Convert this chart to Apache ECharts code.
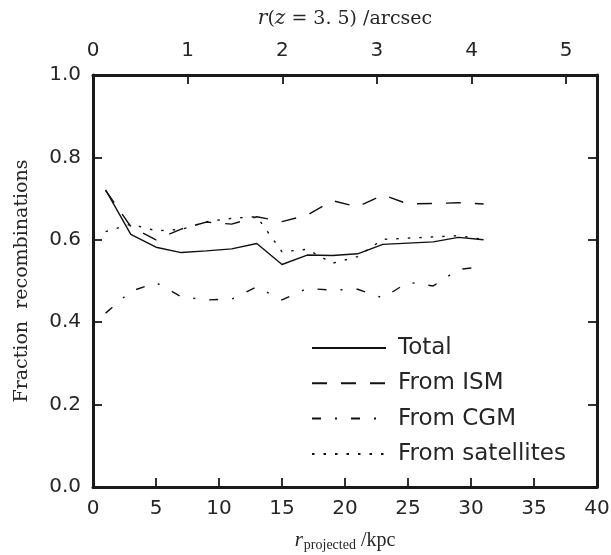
<!DOCTYPE html>
<html>
<head>
<meta charset="utf-8">
<script src="https://cdn.jsdelivr.net/npm/echarts@6/dist/echarts.min.js"></script>
<style>
  html, body { margin: 0; padding: 0; background: #fff; }
  #chart { width: 611px; height: 555px; }
</style>
</head>
<body>
<div id="chart"></div>
<script>
// Projected radius bins (kpc)
const radiusKpc = [1, 3, 5, 7, 9, 11, 13, 15, 17, 19, 21, 23, 25, 27, 29, 31];

// Fraction of recombinations per component
const total      = [0.721, 0.613, 0.582, 0.569, 0.573, 0.578, 0.591, 0.540, 0.563, 0.562, 0.566, 0.589, 0.592, 0.595, 0.606, 0.600];
const fromISM    = [0.720, 0.632, 0.600, 0.626, 0.643, 0.638, 0.656, 0.644, 0.660, 0.695, 0.680, 0.709, 0.687, 0.688, 0.690, 0.687];
const fromCGM    = [0.422, 0.475, 0.496, 0.462, 0.454, 0.456, 0.486, 0.454, 0.482, 0.478, 0.480, 0.459, 0.497, 0.488, 0.528, 0.535];
const fromSats   = [0.620, 0.638, 0.622, 0.625, 0.644, 0.652, 0.656, 0.571, 0.577, 0.543, 0.559, 0.601, 0.604, 0.607, 0.610, 0.601];

const seriesNames = ['Total', 'From ISM', 'From CGM', 'From satellites'];

// Angular scale at z = 3.5 (kpc per arcsec)
const kpcPerArcsec = 7.51;
const xMaxKpc = 40;

const ink = '#1a1a1a';
const textInk = '#262626';
const tickFont = 'DejaVu Sans';
const serif = 'DejaVu Serif';

function pairs(ys) { return radiusKpc.map((r, i) => [r, ys[i]]); }

function lineSeries(name, ys, type) {
  return {
    name: name,
    type: 'line',
    xAxisIndex: 0,
    yAxisIndex: 0,
    data: pairs(ys),
    symbol: 'none',
    silent: true,
    z: 1,
    lineStyle: { color: '#111', width: 1.4, type: type },
    itemStyle: { color: '#111' }
  };
}

function frameLine() { return { show: true, onZero: false, lineStyle: { color: ink, width: 3 } }; }
// negative length turns the tick marks into the plotting area
function innerTicks() { return { show: true, inside: false, length: -9, lineStyle: { color: ink, width: 1.8 } }; }

const chart = echarts.init(document.getElementById('chart'), null, { renderer: 'canvas' });

chart.setOption({
  animation: false,
  backgroundColor: '#fff',
  grid: { left: 93, top: 75, width: 504, height: 412, containLabel: false, outerBoundsMode: 'none' },
  xAxis: [
    {
      type: 'value',
      position: 'bottom',
      min: 0, max: xMaxKpc, interval: 5,
      z: 5,
      axisLine: frameLine(),
      axisTick: innerTicks(),
      splitLine: { show: false },
      axisLabel: { fontFamily: tickFont, fontSize: 20, color: textInk, margin: 12 },
      name: '{i|r}{s|projected}{n| /kpc}',
      nameLocation: 'middle',
      nameGap: 42,
      nameTextStyle: {
        rich: {
          i: { fontFamily: 'Liberation Serif', fontStyle: 'italic', fontSize: 21, color: textInk },
          s: { fontFamily: 'Liberation Serif', fontSize: 14, color: textInk, padding: [9, 0, 0, 1] },
          n: { fontFamily: 'Liberation Serif', fontSize: 20, color: textInk }
        }
      }
    },
    {
      type: 'value',
      position: 'top',
      min: 0, max: xMaxKpc / kpcPerArcsec, interval: 1,
      z: 5,
      axisLine: frameLine(),
      axisTick: innerTicks(),
      splitLine: { show: false },
      axisLabel: {
        fontFamily: tickFont, fontSize: 20, color: textInk, margin: 14,
        showMaxLabel: false,
        formatter: v => (Math.abs(v - Math.round(v)) < 1e-6 ? String(Math.round(v)) : '')
      },
      name: '{i|r}{n|(}{i|z}{n| = 3. 5) /arcsec}',
      nameLocation: 'middle',
      nameGap: 46,
      nameTextStyle: {
        rich: {
          i: { fontFamily: serif, fontStyle: 'italic', fontSize: 20, color: textInk },
          n: { fontFamily: serif, fontSize: 19, color: textInk }
        }
      }
    }
  ],
  yAxis: [
    {
      type: 'value',
      position: 'left',
      min: 0, max: 1, interval: 0.2,
      z: 5,
      axisLine: frameLine(),
      axisTick: innerTicks(),
      splitLine: { show: false },
      axisLabel: { fontFamily: tickFont, fontSize: 20, color: textInk, margin: 12, formatter: v => v.toFixed(1) },
      name: 'Fraction  recombinations',
      nameLocation: 'middle',
      nameGap: 61,
      nameTextStyle: { fontFamily: serif, fontSize: 19, color: textInk }
    },
    {
      type: 'value',
      position: 'right',
      min: 0, max: 1, interval: 0.2,
      z: 5,
      axisLine: frameLine(),
      axisTick: innerTicks(),
      splitLine: { show: false },
      axisLabel: { show: false }
    }
  ],
  legend: {
    orient: 'vertical',
    left: 306,
    top: 331.5,
    itemWidth: 74,
    itemHeight: 20,
    itemGap: 12.3,
    data: seriesNames,
    selectedMode: false,
    itemStyle: { opacity: 0 },
    textStyle: { fontFamily: tickFont, fontSize: 23, color: textInk, lineHeight: 20, padding: [0, 0, 0, 7] }
  },
  series: [
    lineSeries(seriesNames[0], total, 'solid'),
    lineSeries(seriesNames[1], fromISM, [15, 14]),
    lineSeries(seriesNames[2], fromCGM, [9, 14, 2, 14]),
    lineSeries(seriesNames[3], fromSats, [2.5, 9])
  ]
});
</script>
</body>
</html>
